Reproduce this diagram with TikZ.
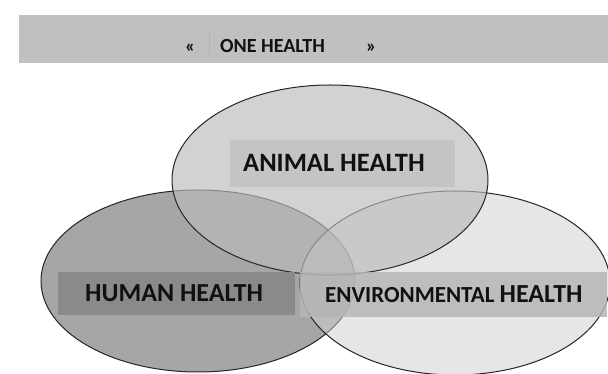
\documentclass[tikz,border=0pt]{standalone}
\usepackage{fontspec}
\setmainfont{Carlito}
\definecolor{banner}{HTML}{C0C0C0}
\definecolor{humanfill}{HTML}{A6A6A6}
\definecolor{envfill}{HTML}{D1D1D1}
\definecolor{animalfill}{HTML}{BBBBBB}
\definecolor{animalbox}{HTML}{C4C4C4}
\definecolor{humanbox}{HTML}{8A8A8A}
\definecolor{envbox}{HTML}{B6B6B6}
\definecolor{ink}{HTML}{111111}
\tikzset{
  circ/.style={draw=black!85, line width=1pt},
  lbl/.style={inner sep=0pt, anchor=base west, text=ink, font=\bfseries},
}
\begin{document}
\begin{tikzpicture}[x=1pt,y=1pt]
\useasboundingbox (0,0) rectangle (608,374);
\fill[white] (0,0) rectangle (608,374);
\begin{scope}
\clip (0,0) rectangle (608,374);
% banner
\fill[banner] (19,311) rectangle (608,359);
% ellipses
\path[circ, fill=humanfill] (198,93) ellipse [x radius=157, y radius=91];
\path[circ, fill=envfill, fill opacity=0.53] (455,91) ellipse [x radius=155, y radius=92];
\path[circ, fill=animalfill, fill opacity=0.66] (330,194) ellipse [x radius=158, y radius=95];
% label boxes
\fill[animalbox] (230,187) rectangle (455,234);
\fill[humanbox] (58,59) rectangle (295,102);
\fill[envbox, fill opacity=0.85] (300,57) rectangle (607,102);
\end{scope}
% banner text
\draw[black!30, line width=0.6pt] (209,319) -- (209,342);
\node[lbl, font=\bfseries\fontsize{19}{19}\selectfont] (lq) at (185,321) {«};
\node[lbl, font=\bfseries\fontsize{20}{20}\selectfont] (one) at (220,321) {ONE HEALTH};
\node[lbl, font=\bfseries\fontsize{19}{19}\selectfont] (rq) at (366,321) {»};
% labels
\node[lbl, font=\bfseries\fontsize{26.5}{26.5}\selectfont] (animal) at (243,202) {ANIMAL HEALTH};
\node[lbl, font=\bfseries\fontsize{26}{26}\selectfont] (human) at (85,72) {HUMAN HEALTH};
\node[lbl, font=\bfseries\fontsize{23}{23}\selectfont] (env) at (325,71) {ENVIRONMENTAL {\fontsize{26}{26}\selectfont HEALTH}};
\end{tikzpicture}
\end{document}
